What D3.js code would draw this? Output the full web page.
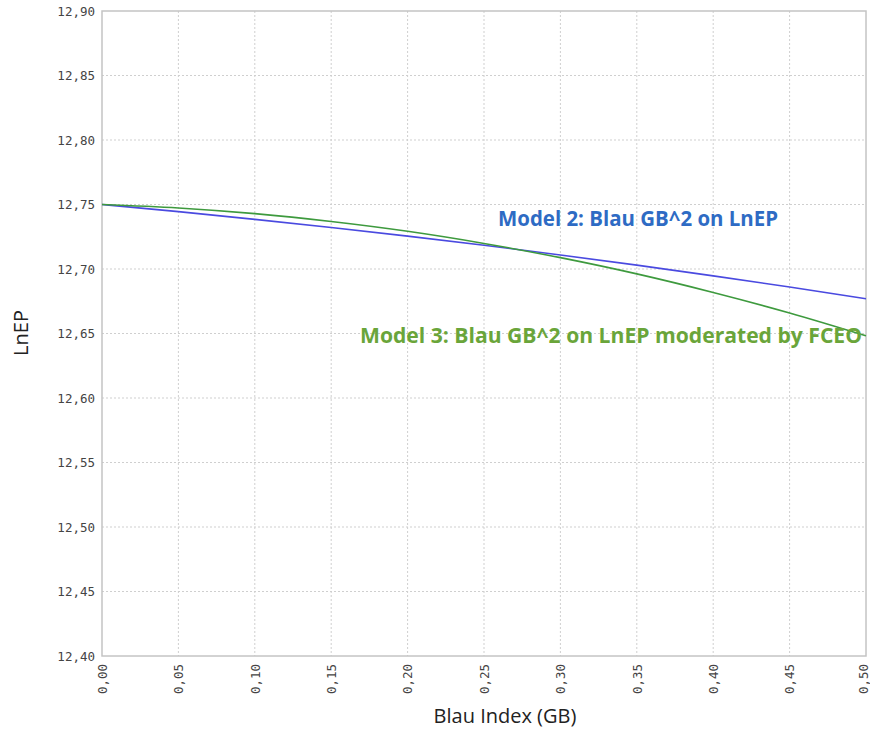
<!DOCTYPE html>
<html><head><meta charset="utf-8">
<script src="https://cdn.jsdelivr.net/npm/d3@7"></script>
<style>body{margin:0;background:#fff}</style>
</head><body>
<svg id="c" width="870" height="729"></svg>
<script>
const xValues = [0, 0.05, 0.10, 0.15, 0.20, 0.25, 0.30, 0.35, 0.40, 0.45, 0.50];
const model2 = [12.750, 12.7445, 12.7385, 12.7322, 12.7255, 12.7184, 12.7109, 12.7030, 12.6947, 12.6860, 12.6770];
const model3 = [12.750, 12.7473, 12.7429, 12.7368, 12.7292, 12.7198, 12.7088, 12.6962, 12.6818, 12.6659, 12.6482];
const xTicks = [0, 0.05, 0.10, 0.15, 0.20, 0.25, 0.30, 0.35, 0.40, 0.45, 0.50];
const yTicks = [12.40, 12.45, 12.50, 12.55, 12.60, 12.65, 12.70, 12.75, 12.80, 12.85, 12.90];
const seriesNames = ["Model 2: Blau GB^2 on LnEP", "Model 3: Blau GB^2 on LnEP moderated by FCEO"];

const svg = d3.select("#c");
const m = {l: 102, r: 866, t: 11, b: 656};
const x = d3.scaleLinear().domain([0, 0.5]).range([m.l, m.r]);
const y = d3.scaleLinear().domain([12.40, 12.90]).range([m.b, m.t]);
const fmt = d => d.toFixed(2).replace(".", ",");

// grid
const g = svg.append("g");
g.selectAll(".vg").data(xTicks.slice(1, -1)).join("line")
  .attr("x1", d => x(d)).attr("x2", d => x(d)).attr("y1", m.t).attr("y2", m.b)
  .attr("stroke", "#cfcfcf").attr("stroke-dasharray", "2,2");
g.selectAll(".hg").data(yTicks.slice(1, -1)).join("line")
  .attr("y1", d => y(d)).attr("y2", d => y(d)).attr("x1", m.l).attr("x2", m.r)
  .attr("stroke", "#cfcfcf").attr("stroke-dasharray", "2,2");
svg.append("rect").attr("x", m.l).attr("y", m.t).attr("width", m.r - m.l).attr("height", m.b - m.t)
  .attr("fill", "none").attr("stroke", "#c4c4c4").attr("stroke-width", 1.5);

// axes
const yAxis = svg.append("g").attr("transform", `translate(${m.l},0)`)
  .call(d3.axisLeft(y).tickValues(yTicks).tickFormat(fmt).tickSize(0).tickPadding(7));
yAxis.select(".domain").remove();
yAxis.selectAll("text").attr("font-family", "DejaVu Sans Mono").attr("font-size", 12.5).attr("fill", "#444");

const xAxis = svg.append("g").attr("transform", `translate(0,${m.b})`)
  .call(d3.axisBottom(x).tickValues(xTicks).tickFormat(fmt).tickSize(0));
xAxis.select(".domain").remove();
xAxis.selectAll("text").attr("font-family", "DejaVu Sans Mono").attr("font-size", 12.5).attr("fill", "#444")
  .attr("text-anchor", "end").attr("transform", "rotate(-90)").attr("x", -8).attr("y", d => d === 0.5 ? -3 : 0).attr("dy", "0.35em");

// lines
const line = d3.line().x((d, i) => x(xValues[i])).y(d => y(d)).curve(d3.curveMonotoneX);
svg.append("path").datum(model2).attr("d", line).attr("fill", "none").attr("stroke", "#4a4ae0").attr("stroke-width", 1.6);
svg.append("path").datum(model3).attr("d", line).attr("fill", "none").attr("stroke", "#3e9a3e").attr("stroke-width", 1.6);

// labels
svg.append("text").attr("x", 498).attr("y", 226).text(seriesNames[0])
  .attr("font-family", "Open Sans").attr("font-weight", "bold").attr("font-size", 20.5).attr("fill", "#2e6bc4")
  .attr("textLength", 280).attr("lengthAdjust", "spacingAndGlyphs");
svg.append("text").attr("x", 360).attr("y", 343).text(seriesNames[1])
  .attr("font-family", "Open Sans").attr("font-weight", "bold").attr("font-size", 20.5).attr("fill", "#6aa53a")
  .attr("textLength", 502).attr("lengthAdjust", "spacingAndGlyphs");

// axis titles
svg.append("text").attr("x", 505).attr("y", 723).attr("text-anchor", "middle").text("Blau Index (GB)")
  .attr("font-family", "Open Sans").attr("font-size", 20).attr("fill", "#222");
svg.append("text").attr("transform", "translate(28,333) rotate(-90)").attr("text-anchor", "middle").text("LnEP")
  .attr("font-family", "Open Sans").attr("font-size", 20).attr("fill", "#222");
</script>
</body></html>
